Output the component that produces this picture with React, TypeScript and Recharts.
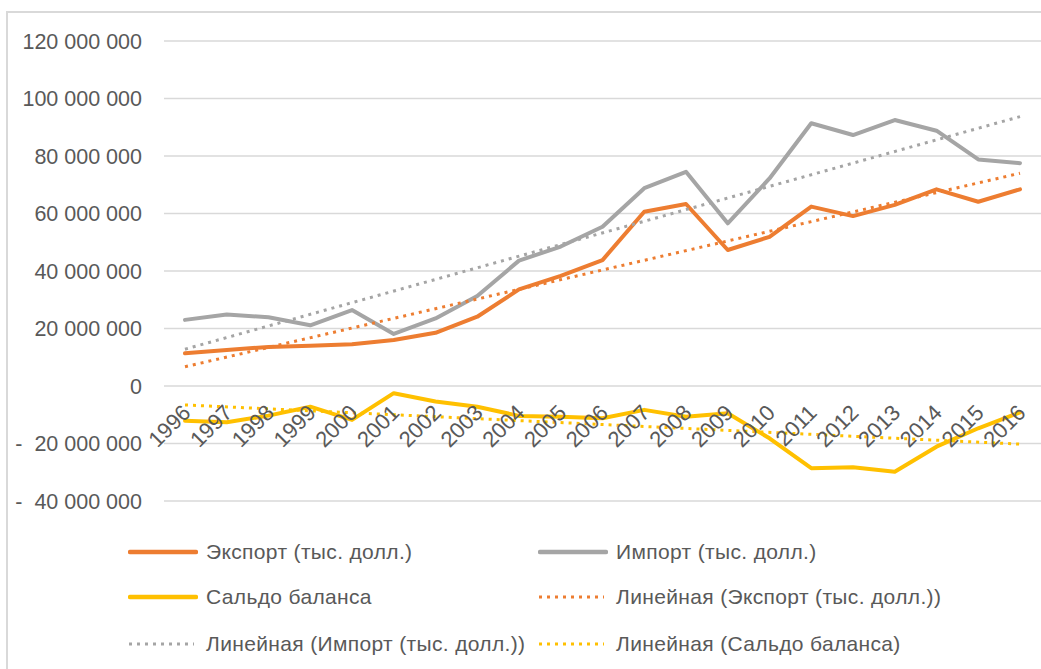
import React from 'react';
import { LineChart, Line, XAxis, YAxis, CartesianGrid, Legend } from 'recharts';

const years = ['1996','1997','1998','1999','2000','2001','2002','2003','2004','2005','2006','2007','2008','2009','2010','2011','2012','2013','2014','2015','2016'];
const exportVals = [11400000,12500000,13600000,14000000,14500000,16000000,18500000,24100000,33600000,38300000,43800000,60600000,63300000,47300000,51900000,62400000,59100000,63000000,68400000,64100000,68400000];
const importVals = [23000000,24900000,23900000,21100000,26400000,18100000,23500000,31300000,43600000,48500000,55400000,68800000,74500000,56600000,72200000,91400000,87300000,92500000,88800000,78800000,77500000];
const saldoVals = [-12100000,-12600000,-10300000,-7200000,-11800000,-2500000,-5400000,-7200000,-10400000,-10700000,-11200000,-8300000,-10700000,-9500000,-18200000,-28600000,-28300000,-29800000,-21100000,-14700000,-9200000];
// trendline end values (first year, last year)
const exportTrendEnds = [6700000, 74000000];
const importTrendEnds = [12800000, 93700000];
const saldoTrendEnds = [-6600000, -20200000];
const yTicks = [-40000000,-20000000,0,20000000,40000000,60000000,80000000,100000000,120000000];

const FONT = '"Liberation Sans", Arial, sans-serif';
const TEXT = '#595959';
const ORANGE = '#ED7D31';
const GRAY = '#A5A5A5';
const YELLOW = '#FFC000';

const seriesNames = ['Экспорт (тыс. долл.)', 'Импорт (тыс. долл.)', 'Сальдо баланса'];
const trendNames = ['Линейная (Экспорт (тыс. долл.))', 'Линейная (Импорт (тыс. долл.))', 'Линейная (Сальдо баланса)'];
const legendItems = [
  { name: seriesNames[0], color: ORANGE, dotted: false },
  { name: seriesNames[1], color: GRAY, dotted: false },
  { name: seriesNames[2], color: YELLOW, dotted: false },
  { name: trendNames[0], color: ORANGE, dotted: true },
  { name: trendNames[1], color: GRAY, dotted: true },
  { name: trendNames[2], color: YELLOW, dotted: true },
];

const last = years.length - 1;
const ends = (arr: number[], i: number) => (i === 0 ? arr[0] : i === last ? arr[1] : null);
const data = years.map((year, i) => ({
  year,
  exp: exportVals[i],
  imp: importVals[i],
  sal: saldoVals[i],
  expT: ends(exportTrendEnds, i),
  impT: ends(importTrendEnds, i),
  salT: ends(saldoTrendEnds, i),
}));

const Y_MIN = -40000000;
const Y_MAX = 120000000;
const W = 1041;
const H = 669;
const PLOT_TOP = 41;
const PLOT_BOTTOM = 501;
const PLOT_H = PLOT_BOTTOM - PLOT_TOP;
const ZERO_Y = PLOT_TOP + (PLOT_H * Y_MAX) / (Y_MAX - Y_MIN);

const fmt = (v: number) => {
  const s = Math.abs(v).toString().replace(/\B(?=(\d{3})+(?!\d))/g, ' ');
  return v < 0 ? '-\u00a0\u00a0' + s : s;
};

const XTick = (props: any) => {
  const { x, payload } = props;
  const tx = x + 7;
  const ty = ZERO_Y + 28;
  return (
    <text x={tx} y={ty} textAnchor="end" fill={TEXT} fontSize={22} fontFamily={FONT} transform={`rotate(-45, ${tx}, ${ty})`}>
      {payload.value}
    </text>
  );
};

const YTick = (props: any) => {
  const { x, y, payload } = props;
  return (
    <text x={x} y={y} dy="0.355em" textAnchor="end" fill={TEXT} fontSize={21.5} fontFamily={FONT}>
      {fmt(payload.value)}
    </text>
  );
};

const LegendContent = () => {
  const rowsTop = [552, 597, 644];
  const colsLeft = [128, 538];
  return (
    <div style={{ position: 'relative', width: 0, height: 0 }}>
      {legendItems.map((p, i) => {
        const row = Math.floor(i / 2);
        const col = i % 2;
        return (
          <div key={i} style={{ position: 'absolute', left: colsLeft[col], top: rowsTop[row] - 14, height: 28, display: 'flex', alignItems: 'center', whiteSpace: 'nowrap' }}>
            <svg width={70} height={10} style={{ display: 'block' }}>
              {p.dotted ? (
                <line x1={1} y1={5} x2={66} y2={5} stroke={p.color} strokeWidth={3} strokeDasharray="3 5" />
              ) : (
                <line x1={2} y1={5} x2={68} y2={5} stroke={p.color} strokeWidth={4.5} strokeLinecap="round" />
              )}
            </svg>
            <span style={{ marginLeft: 8, fontFamily: FONT, fontSize: 21, letterSpacing: 0.35, color: TEXT }}>{p.name}</span>
          </div>
        );
      })}
    </div>
  );
};

export default function App() {
  return (
    <div style={{ position: 'absolute', left: 0, top: 0, width: W, height: H, background: '#fff', overflow: 'hidden' }}>
      <div style={{ position: 'absolute', left: 6, top: 11, width: 1100, height: 700, border: '2px solid #d9d9d9', boxSizing: 'border-box' }} />
      <div style={{ position: 'absolute', left: 0, top: 0 }}>
        <LineChart width={W} height={H} data={data} margin={{ top: PLOT_TOP, right: 0, left: 14, bottom: H - PLOT_BOTTOM - 30 }}>
          <CartesianGrid vertical={false} stroke="#d9d9d9" strokeWidth={1.3} />
          <XAxis dataKey="year" height={30} axisLine={false} tickLine={false} interval={0} padding={{ left: 21, right: 21 }} tick={<XTick />} />
          <YAxis width={150} domain={[Y_MIN, Y_MAX]} ticks={yTicks} axisLine={false} tickLine={false} tickMargin={16} tick={<YTick />} interval={0} />
          <Legend content={<LegendContent />} wrapperStyle={{ position: 'absolute', left: 0, top: 0, width: 0, height: 0 }} />
          <Line type="linear" dataKey="exp" name={seriesNames[0]} stroke={ORANGE} strokeWidth={4} dot={false} strokeLinejoin="round" strokeLinecap="round" isAnimationActive={false} />
          <Line type="linear" dataKey="imp" name={seriesNames[1]} stroke={GRAY} strokeWidth={4} dot={false} strokeLinejoin="round" strokeLinecap="round" isAnimationActive={false} />
          <Line type="linear" dataKey="sal" name={seriesNames[2]} stroke={YELLOW} strokeWidth={4} dot={false} strokeLinejoin="round" strokeLinecap="round" isAnimationActive={false} />
          <Line type="linear" dataKey="expT" name={trendNames[0]} stroke={ORANGE} strokeWidth={3} strokeDasharray="3 5" dot={false} connectNulls isAnimationActive={false} />
          <Line type="linear" dataKey="impT" name={trendNames[1]} stroke={GRAY} strokeWidth={3} strokeDasharray="3 5" dot={false} connectNulls isAnimationActive={false} />
          <Line type="linear" dataKey="salT" name={trendNames[2]} stroke={YELLOW} strokeWidth={3} strokeDasharray="3 5" dot={false} connectNulls isAnimationActive={false} />
        </LineChart>
      </div>
    </div>
  );
}
